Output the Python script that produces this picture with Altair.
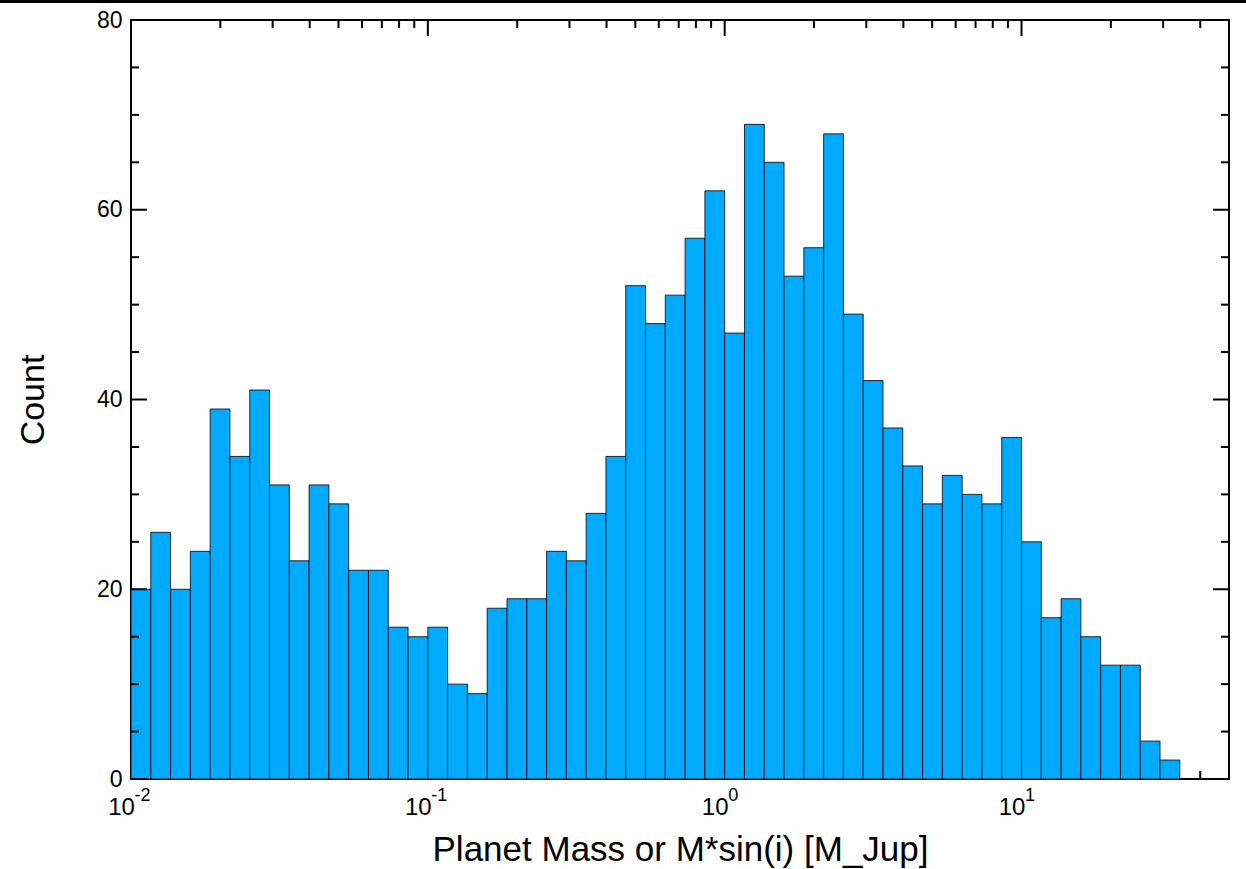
import altair as alt
import pandas as pd

FONT = "Liberation Sans"

# Histogram of planet masses: 15 logarithmic bins per decade starting at 1e-2
EXP0 = -2
PER_DECADE = 15
counts = [20, 26, 20, 24, 39, 34, 41, 31, 23, 31, 29, 22, 22, 16, 15, 16, 10, 9,
          18, 19, 19, 24, 23, 28, 34, 52, 48, 51, 57, 62, 47, 69, 65, 53, 56, 68,
          49, 42, 37, 33, 29, 32, 30, 29, 36, 25, 17, 19, 15, 12, 12, 4, 2]

# Axis tick values
y_major = [0, 20, 40, 60, 80]
y_minor = [5, 10, 15, 25, 30, 35, 45, 50, 55, 65, 70, 75]
x_major = [0.01, 0.1, 1, 10]
x_minor = [0.02, 0.03, 0.04, 0.05, 0.06, 0.07, 0.08, 0.09,
           0.2, 0.3, 0.4, 0.5, 0.6, 0.7, 0.8, 0.9,
           2, 3, 4, 5, 6, 7, 8, 9, 20, 30, 40]
decade_exponents = ["-2", "-1", "0", "1"]

W, H = 1098, 759
MAJOR_LEN, MINOR_LEN = 16, 8

xscale = alt.Scale(type="log", domain=[0.01, 50], nice=False)
yscale = alt.Scale(domain=[0, 80], nice=False)

# Shared axes: the frame and ticks are drawn separately, the axes carry the
# titles and the y labels only.
xaxis = alt.Axis(title="Planet Mass or M*sin(i) [M_Jup]", labels=False,
                 ticks=False, domain=False, grid=False,
                 titleFont=FONT, titleFontSize=35, titleFontWeight="normal",
                 titleColor="black", titlePadding=53)
yaxis = alt.Axis(title="Count", values=y_major, ticks=False, domain=False,
                 grid=False, labelFont=FONT, labelFontSize=23,
                 labelColor="black", labelPadding=9,
                 titleFont=FONT, titleFontSize=34, titleFontWeight="normal",
                 titleColor="black", titlePadding=46)

bars_df = pd.DataFrame({"i": list(range(len(counts))), "count": counts})

bars = alt.Chart(bars_df).transform_calculate(
    lo=f"pow(10, {EXP0} + datum.i / {PER_DECADE})",
    hi=f"pow(10, {EXP0} + (datum.i + 1) / {PER_DECADE})",
).mark_rect(color="#00aaff", stroke="black", strokeWidth=0.8).encode(
    x=alt.X("lo:Q", scale=xscale, axis=xaxis),
    x2="hi:Q",
    y=alt.Y("count:Q", scale=yscale, axis=yaxis),
    y2=alt.datum(0),
)


def xticks(values, length, top):
    df = pd.DataFrame({"v": values})
    y0, y1 = (0, length) if top else (H, H - length)
    return alt.Chart(df).mark_rule(color="black", strokeWidth=2).encode(
        x=alt.X("v:Q", scale=xscale, axis=xaxis),
        y=alt.value(y0), y2=alt.value(y1),
    )


def yticks(values, length, right):
    df = pd.DataFrame({"v": values})
    x0, x1 = (W, W - length) if right else (0, length)
    return alt.Chart(df).mark_rule(color="black", strokeWidth=2).encode(
        y=alt.Y("v:Q", scale=yscale, axis=yaxis),
        x=alt.value(x0), x2=alt.value(x1),
    )


bottom_ticks = xticks(x_major, MAJOR_LEN, False) + xticks(x_minor, MINOR_LEN, False)
other_ticks = (xticks(x_major, MAJOR_LEN, True) + xticks(x_minor, MINOR_LEN, True)
               + yticks(y_major, MAJOR_LEN, False) + yticks(y_minor, MINOR_LEN, False)
               + yticks(y_major, MAJOR_LEN, True) + yticks(y_minor, MINOR_LEN, True))

dec_df = pd.DataFrame({"v": x_major, "exp": decade_exponents})
base_labels = alt.Chart(dec_df).mark_text(
    text="10", font=FONT, fontSize=24, align="center", baseline="alphabetic",
    dx=-9.5, color="black",
).encode(x=alt.X("v:Q", scale=xscale, axis=xaxis), y=alt.value(H + 36))
exp_labels = alt.Chart(dec_df).mark_text(
    font=FONT, fontSize=18, align="left", baseline="alphabetic", dx=3.5,
    color="black",
).encode(x=alt.X("v:Q", scale=xscale, axis=xaxis), y=alt.value(H + 22),
         text="exp:N")

# heavy rule across the top edge of the figure
top_rule = alt.Chart(pd.DataFrame({"k": [0]})).mark_rule(
    color="black", strokeWidth=3
).encode(x=alt.value(-131), x2=alt.value(W + 17), y=alt.value(-18.5))

chart = alt.layer(
    bottom_ticks, bars, other_ticks, base_labels, exp_labels, top_rule
).properties(
    width=W, height=H,
    autosize=alt.AutoSizeParams(type="none"),
    padding={"left": 131, "top": 20, "right": 17, "bottom": 90},
    background="white",
).configure_view(
    stroke="black", strokeWidth=2
)

chart.save("out.html", embed_options={"renderer": "svg", "actions": False})
